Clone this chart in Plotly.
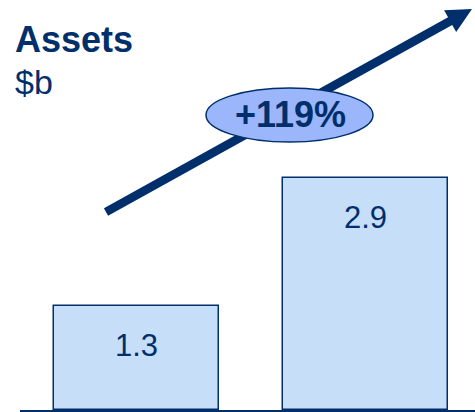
import math
import plotly.graph_objects as go

# Data
categories = ["Before", "After"]
assets = [1.3, 2.9]
growth_label = "+119%"
title_text = "Assets"
unit_text = "$b"

NAVY = "#002F6C"
BAR_FILL = "#C6DEF8"
OVAL_FILL = "#9BB6FA"
FONT = "Arial, Liberation Sans, sans-serif"

W, H = 475, 412
ML, MR, MT, MB = 20, 0, 0, 2
PW, PH = W - ML - MR, H - MT - MB


def to_paper(px, py):
    return (px - ML) / PW, (MT + PH - py) / PH


fig = go.Figure()
fig.add_trace(go.Bar(
    x=[0, 1], y=assets, width=0.72,
    marker=dict(color=BAR_FILL, line=dict(color=NAVY, width=1.5)),
    hoverinfo="skip",
))

# value labels inside bars, a fixed distance below each bar top
for i, v in enumerate(assets):
    fig.add_annotation(x=i, y=v, text=f"{v:.1f}", showarrow=False,
                       yanchor="middle", yshift=-39,
                       font=dict(family=FONT, size=31, color=NAVY))

# growth arrow drawn as a filled polygon
tail = (106, 212)
tip = (472, 9)
dx, dy = tip[0] - tail[0], tip[1] - tail[1]
L = math.hypot(dx, dy)
ux, uy = dx / L, dy / L
nx, ny = -uy, ux
hw, head_len, head_hw = 4.3, 25, 12.5
bx, by = tip[0] - ux * head_len, tip[1] - uy * head_len
pts = [
    (tail[0] + nx * hw, tail[1] + ny * hw),
    (bx + nx * hw, by + ny * hw),
    (bx + nx * head_hw, by + ny * head_hw),
    tip,
    (bx - nx * head_hw, by - ny * head_hw),
    (bx - nx * hw, by - ny * hw),
    (tail[0] - nx * hw, tail[1] - ny * hw),
]
path = "M " + " L ".join(f"{to_paper(*p)[0]:.5f},{to_paper(*p)[1]:.5f}" for p in pts) + " Z"
fig.add_shape(type="path", path=path, xref="paper", yref="paper",
              fillcolor=NAVY, line=dict(width=0), layer="above")

# oval badge
ex0, ey0 = to_paper(206, 142)
ex1, ey1 = to_paper(373, 88)
fig.add_shape(type="circle", xref="paper", yref="paper",
              x0=ex0, y0=ey0, x1=ex1, y1=ey1,
              fillcolor=OVAL_FILL, line=dict(color=NAVY, width=1.5), layer="above")
cx, cy = to_paper(290, 114)
fig.add_annotation(xref="paper", yref="paper", x=cx, y=cy, text=f"<b>{growth_label}</b>",
                   showarrow=False, xanchor="center", yanchor="middle",
                   font=dict(family=FONT, size=36, color=NAVY))

# title and unit
tx, ty = to_paper(13, 40)
fig.add_annotation(xref="paper", yref="paper", x=tx, y=ty, text=f"<b>{title_text}</b>",
                   showarrow=False, xanchor="left", yanchor="middle",
                   font=dict(family=FONT, size=36, color=NAVY))
ux2, uy2 = to_paper(13, 82)
fig.add_annotation(xref="paper", yref="paper", x=ux2, y=uy2, text=unit_text,
                   showarrow=False, xanchor="left", yanchor="middle",
                   font=dict(family=FONT, size=34, color=NAVY))

fig.update_layout(
    width=W, height=H,
    margin=dict(l=ML, r=MR, t=MT, b=MB),
    paper_bgcolor="white", plot_bgcolor="white",
    showlegend=False,
    bargap=0,
    xaxis=dict(range=[-0.507, 1.48], showticklabels=False, showgrid=False,
               zeroline=False, showline=True, linecolor=NAVY, linewidth=3,
               ticks=""),
    yaxis=dict(range=[0, PH / 80.0], visible=False, showgrid=False, zeroline=False),
)

fig.write_html("out.html")
